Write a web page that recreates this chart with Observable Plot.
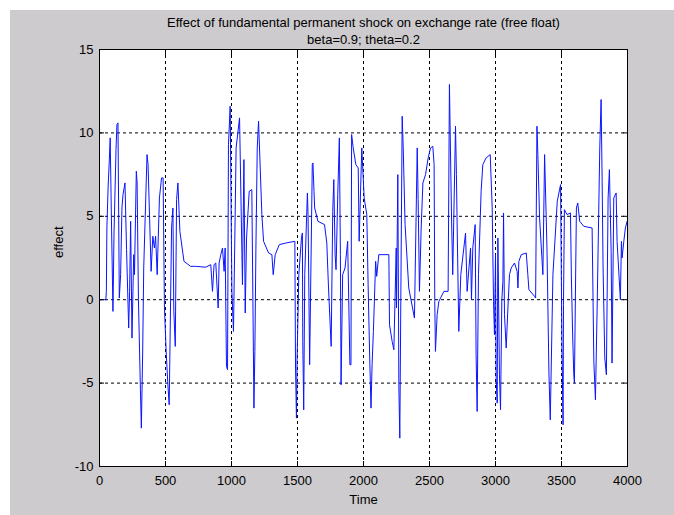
<!DOCTYPE html>
<html>
<head>
<meta charset="utf-8">
<script src="https://cdn.jsdelivr.net/npm/d3@7"></script>
<script src="https://cdn.jsdelivr.net/npm/@observablehq/plot@0.6"></script>
<style>
  html, body { margin: 0; padding: 0; background: #ffffff; }
  #page { position: relative; width: 674px; height: 515px; background: #ffffff; overflow: hidden; }
  #figure { position: absolute; left: 10px; top: 10px; width: 664px; height: 505px; background: #cdcbcd; }
  #figure svg { display: block; }
</style>
</head>
<body>
<div id="page"><div id="figure"></div></div>
<script>
// Simulated response of the exchange rate to a fundamental permanent shock
const time = [
  0, 48, 52, 56, 65, 74, 81, 90, 102, 110, 125, 132, 140, 150, 160, 170, 178, 193, 205, 221,
  228, 236, 246, 259, 265, 279, 285, 295, 310, 317, 327, 335, 360, 368, 391, 404, 416, 425, 437, 454,
  470, 482, 492, 505, 518, 528, 546, 556, 563, 574, 584, 594, 609, 640, 690, 729, 805, 843, 856, 868,
  881, 899, 906, 919, 932, 944, 952, 962, 970, 977, 990, 1003, 1015, 1035, 1061, 1083, 1094, 1104, 1114, 1134,
  1154, 1170, 1177, 1185, 1195, 1205, 1230, 1243, 1281, 1306, 1316, 1331, 1362, 1412, 1480, 1485, 1492, 1497, 1510, 1530,
  1537, 1540, 1547, 1555, 1575, 1580, 1592, 1612, 1617, 1625, 1630, 1655, 1705, 1722, 1735, 1755, 1767, 1775, 1785, 1792,
  1805, 1817, 1825, 1830, 1842, 1860, 1880, 1897, 1905, 1910, 1922, 1942, 1960, 1967, 1987, 2005, 2025, 2035, 2047, 2057,
  2065, 2075, 2092, 2100, 2116, 2192, 2197, 2217, 2230, 2248, 2250, 2260, 2268, 2275, 2293, 2301, 2315, 2343, 2386, 2407,
  2414, 2424, 2437, 2450, 2470, 2490, 2508, 2525, 2535, 2540, 2545, 2558, 2571, 2609, 2641, 2651, 2667, 2676, 2697, 2704,
  2712, 2722, 2737, 2773, 2785, 2811, 2818, 2828, 2846, 2853, 2861, 2871, 2891, 2904, 2929, 2960, 2975, 2985, 2992, 3000,
  3005, 3013, 3018, 3030, 3038, 3048, 3056, 3061, 3068, 3081, 3094, 3106, 3119, 3144, 3164, 3170, 3177, 3195, 3233, 3245,
  3253, 3296, 3304, 3314, 3321, 3334, 3359, 3372, 3390, 3405, 3415, 3435, 3468, 3493, 3503, 3512, 3515, 3522, 3542, 3568,
  3575, 3585, 3593, 3598, 3606, 3613, 3623, 3638, 3669, 3732, 3745, 3757, 3770, 3790, 3800, 3808, 3815, 3828, 3840, 3853,
  3863, 3876, 3883, 3896, 3914, 3921, 3946, 3954, 3959, 3972, 3984, 3997
];
const effect = [
  0, 0, 0.5, 4.3, 6.7, 8.3, 9.7, 5.0, -0.7, 4.0, 9.0, 10.5, 10.6, 0.1, 1.5, 5.5, 6.3, 7.0, 3.0, -1.7,
  0.5, 4.7, -2.3, 2.7, 1.5, 7.7, 7.0, 0.0, -5.4, -7.7, -3.2, 1.9, 8.7, 8.1, 1.7, 3.8, 3.1, 3.8, 1.5, 6.1,
  7.3, 7.3, -0.5, -3.1, -5.1, -6.3, 4.3, 5.5, -0.7, -2.8, 6.0, 7.0, 4.1, 2.3, 2.0, 2.0, 1.95, 2.1, 0.5, 2.1,
  2.2, -0.5, 2.2, 2.7, 3.1, 1.7, 3.1, -4.0, -4.2, 9.3, 11.6, 0.5, -1.9, 9.1, 10.9, 0.9, 8.4, -0.8, 3.7, 6.5,
  6.6, -6.5, -3.1, 3.1, 9.1, 10.7, 5.1, 3.5, 2.8, 2.7, 1.5, 2.7, 3.3, 3.4, 3.5, -4.1, -7.1, -3.5, 1.5, 3.7,
  4.0, -2.5, -6.6, 1.5, 6.4, 5.1, -3.9, 8.1, 8.2, 6.5, 5.5, 4.7, 4.5, 3.4, 0.7, -2.8, 5.3, 7.2, 2.7, 1.8,
  6.3, 9.7, 2.7, -5.1, 1.5, 1.9, 3.5, -3.9, -3.9, 9.9, 9.1, 8.1, 7.9, 3.5, 9.1, 6.1, 5.1, 0.9, -3.5, -6.5,
  -3.9, -1.9, 2.3, 1.4, 2.7, 2.7, -1.5, -2.5, -3.0, 3.1, -0.5, 7.5, -5.3, -8.3, 11.0, 9.1, 4.5, 0.7, -1.1, 9.1,
  6.0, 0.5, 4.3, 7.0, 7.5, 8.5, 9.1, 9.2, 8.1, -0.1, -3.1, -0.9, -0.1, 0.5, 0.5, 12.9, 4.9, 1.5, 10.4, 7.5,
  3.1, -1.9, 1.5, 4.0, 0.5, 3.1, 0.0, 3.1, 4.5, -3.3, -6.7, 1.5, 6.5, 8.1, 8.5, 8.7, 5.5, -0.1, -2.1, 2.7,
  -4.7, -6.2, 3.7, -4.5, -6.6, 0.0, 1.1, 5.2, -0.9, -2.9, -0.5, 1.5, 1.9, 2.2, 1.7, 0.7, 2.3, 2.7, 2.8, 1.5,
  0.6, 0.2, 0.1, 10.4, 8.7, 4.9, 1.5, 8.7, 3.1, -4.5, -7.2, 1.5, 5.9, 6.9, -2.5, -7.5, -0.3, 5.4, 5.1, 5.2,
  1.3, -2.3, -4.5, -5.0, 0.7, 5.5, 5.8, 4.7, 4.4, 4.3, -3.7, -6.0, -0.5, 9.1, 12.0, 7.1, 1.9, -3.5, -4.5, 6.1,
  7.8, 2.9, -3.8, 6.1, 6.4, 3.5, 0.0, 3.5, 2.5, 3.5, 4.3, 4.7
];

const xTicks = [0, 500, 1000, 1500, 2000, 2500, 3000, 3500, 4000];
const yTicks = [-10, -5, 0, 5, 10, 15];

const titleLines = "Effect of fundamental permanent shock on exchange rate (free float)\nbeta=0.9; theta=0.2";
const xLabel = "Time";
const yLabel = "effect";

const series = time.map((t, i) => ({time: t, effect: effect[i]}));

const font = "Arial, 'Liberation Sans', Helvetica, sans-serif";
const plain = (d) => String(d);

const chart = Plot.plot({
  width: 664,
  height: 505,
  marginLeft: 89,
  marginRight: 47,
  marginTop: 39,
  marginBottom: 49,
  style: {background: "transparent", fontFamily: font, fontSize: "13px", color: "#000"},
  x: {domain: [0, 4000], ticks: xTicks},
  y: {domain: [-10, 15], ticks: yTicks},
  marks: [
    Plot.frame({fill: "#ffffff", stroke: null}),
    Plot.gridX(xTicks, {stroke: "#000", strokeOpacity: 1, strokeDasharray: "3,3"}),
    Plot.gridY(yTicks, {stroke: "#000", strokeOpacity: 1, strokeDasharray: "3,3"}),
    Plot.line(series, {x: "time", y: "effect", stroke: "#0a14ff", strokeWidth: 1}),
    // inward ticks on all four sides
    Plot.axisX(xTicks, {anchor: "bottom", tickSize: -5, text: null, stroke: "#000", label: null}),
    Plot.axisX(xTicks, {anchor: "top", tickSize: -5, text: null, stroke: "#000", label: null}),
    Plot.axisY(yTicks, {anchor: "left", tickSize: -5, text: null, stroke: "#000", label: null}),
    Plot.axisY(yTicks, {anchor: "right", tickSize: -5, text: null, stroke: "#000", label: null}),
    // tick labels
    Plot.axisX(xTicks, {anchor: "bottom", tickSize: 0, tickPadding: 9, tickFormat: plain, label: null, fill: "#000", fontSize: 13}),
    Plot.axisY(yTicks, {anchor: "left", tickSize: 0, tickPadding: 6, tickFormat: plain, label: null, fill: "#000", fontSize: 13}),
    Plot.frame({stroke: "#000", strokeWidth: 1}),
    Plot.text([xLabel], {frameAnchor: "bottom", dy: 37, fill: "#000", fontSize: 13}),
    Plot.text([yLabel], {frameAnchor: "left", dx: -41, rotate: -90, fill: "#000", fontSize: 13}),
    Plot.text([titleLines], {frameAnchor: "top", dy: -6, lineAnchor: "bottom", lineHeight: 1.25, fill: "#000", fontSize: 13})
  ]
});

document.getElementById("figure").appendChild(chart);
</script>
</body>
</html>
